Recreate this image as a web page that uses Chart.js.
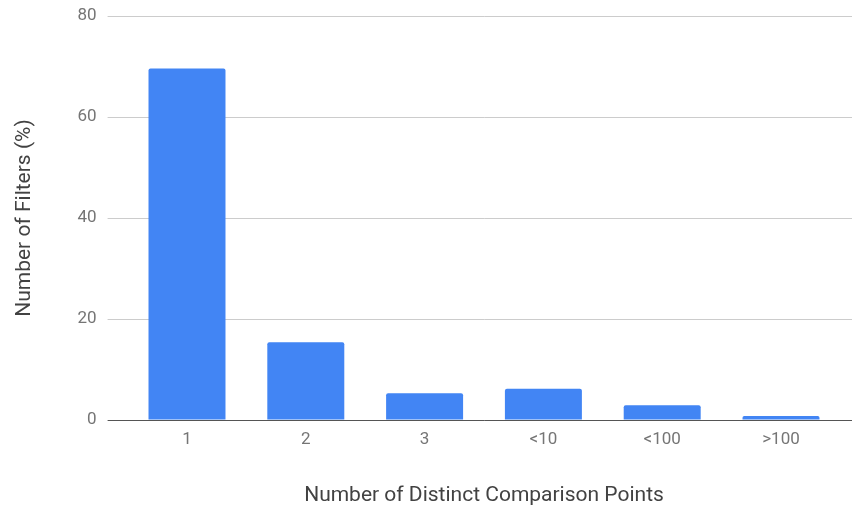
<!DOCTYPE html>
<html>
<head>
<meta charset="utf-8">
<script src="https://cdn.jsdelivr.net/npm/chart.js@4"></script>
<style>
  html, body { margin: 0; padding: 0; background: #fff; }
  #wrap { width: 852px; height: 508px; }
</style>
</head>
<body>
<div id="wrap"><canvas id="barChart" width="852" height="508"></canvas></div>
<script>
// data
var categories = ["1", "2", "3", "<10", "<100", ">100"];
var filterShare = [69.6, 15.4, 5.3, 6.2, 2.9, 0.8];
var yTicks = [0, 20, 40, 60, 80];

// gridline colour, the zero line is darker like an axis
function lineColor(ctx) {
  if (ctx.tick && ctx.tick.value === 0) return '#555555';
  return '#cccccc';
}

// keep the plot area exactly where the padding puts it
function noMargins(scale) {
  scale.paddingTop = 0;
  scale.paddingBottom = 0;
}

var ctxB = document.getElementById("barChart").getContext('2d');
var myBarChart = new Chart(ctxB, {
  type: 'bar',
  data: {
    labels: categories,
    datasets: [{
      label: "Number of Filters (%)",
      data: filterShare,
      backgroundColor: '#4285f4',
      borderRadius: 2,
      borderSkipped: 'start',
      categoryPercentage: 1,
      barPercentage: 0.648
    }]
  },
  options: {
    responsive: false,
    animation: false,
    layout: { padding: { top: 16, left: 0, right: 0, bottom: 0 } },
    plugins: {
      legend: { display: false },
      tooltip: { enabled: false }
    },
    scales: {
      x: {
        grid: { display: false, drawTicks: false },
        border: { display: false },
        ticks: {
          color: '#757575',
          font: { family: 'Roboto', size: 17 },
          padding: 10
        },
        title: {
          display: true,
          text: 'Number of Distinct Comparison Points',
          color: '#424242',
          font: { family: 'Roboto', size: 21 },
          padding: { top: 30, bottom: 0 }
        },
        afterFit: function (scale) {
          scale.height = 88;
          scale.paddingLeft = 0;
          scale.paddingRight = 0;
        }
      },
      y: {
        min: 0,
        max: 80,
        afterBuildTicks: function (scale) {
          scale.ticks = yTicks.map(function (v) { return { value: v }; });
        },
        grid: {
          color: lineColor,
          tickColor: lineColor,
          lineWidth: 1,
          drawTicks: true,
          tickLength: 20
        },
        border: { display: false },
        ticks: {
          color: '#757575',
          font: { family: 'Roboto', size: 17 },
          padding: 11
        },
        title: {
          display: true,
          text: 'Number of Filters (%)',
          color: '#424242',
          font: { family: 'Roboto', size: 21 },
          padding: { top: 12, bottom: 0 }
        },
        afterFit: function (scale) {
          scale.width = 127.6;
          noMargins(scale);
        }
      },
      // only here so the gridlines run on past the last bar
      yRight: {
        position: 'right',
        display: true,
        min: 0,
        max: 80,
        afterBuildTicks: function (scale) {
          scale.ticks = yTicks.map(function (v) { return { value: v }; });
        },
        grid: {
          color: lineColor,
          tickColor: lineColor,
          drawOnChartArea: false,
          drawTicks: true,
          tickLength: 12
        },
        border: { display: false },
        ticks: { display: false },
        afterFit: function (scale) {
          scale.width = 11.6;
          noMargins(scale);
        }
      }
    }
  }
});
</script>
</body>
</html>
